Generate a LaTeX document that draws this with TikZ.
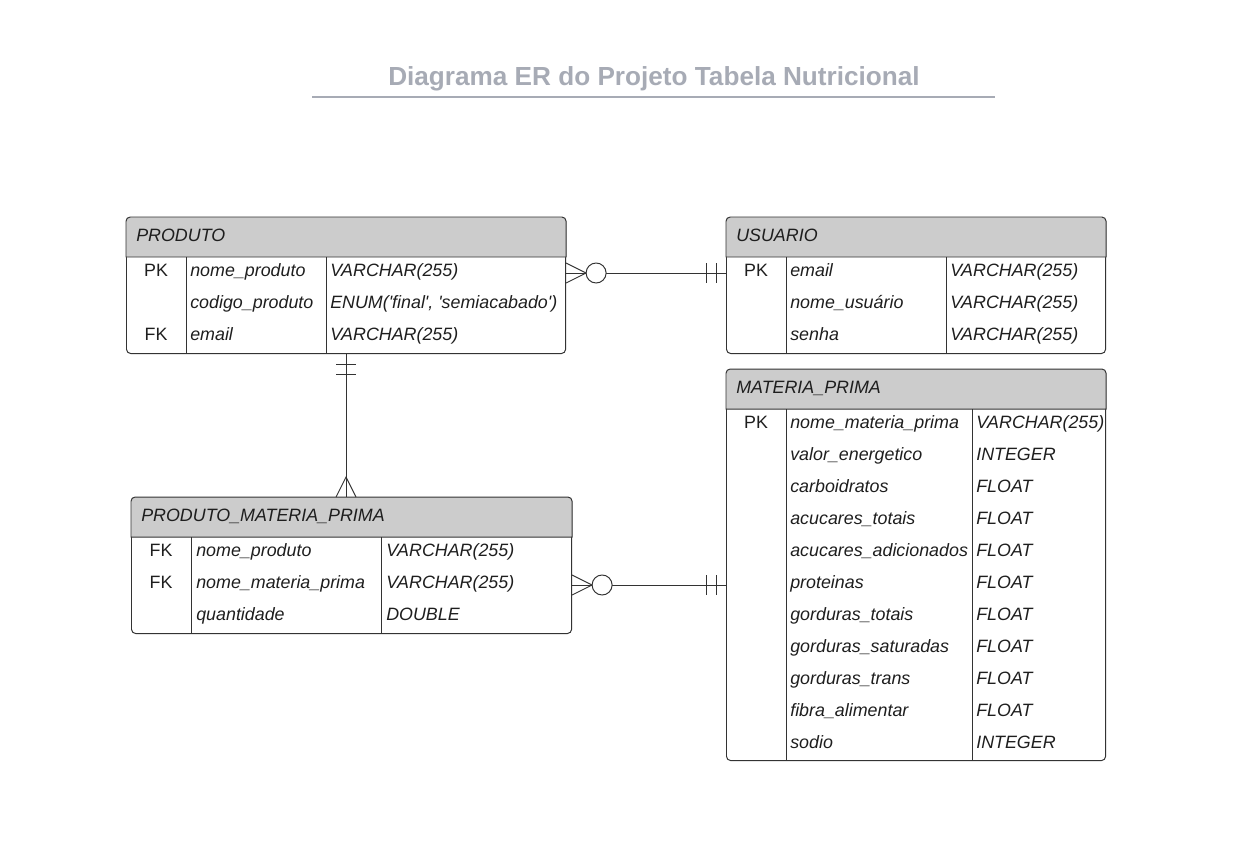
\documentclass[tikz,border=0pt]{standalone}
\usepackage{fontspec}
\setmainfont{Liberation Sans}[Ligatures=TeXOff]
\usetikzlibrary{calc}

\definecolor{linec}{RGB}{51,51,51}
\definecolor{hdrgray}{RGB}{204,204,204}
\definecolor{titlegray}{RGB}{167,171,181}
\definecolor{txt}{RGB}{30,30,30}
\newcommand{\cellfont}{\fontsize{12.7}{15}\selectfont}

\tikzset{
  tbl/.style={draw=linec, line width=0.7pt, rounded corners=3pt, anchor=north west, inner sep=0pt, minimum height=3.4cm},
  hdr/.style={fill=hdrgray, draw=linec, line width=0.7pt},
  cell/.style={inner sep=0pt, text=txt, font=\cellfont, text height=9pt, text depth=4.5pt},
  keyc/.style={cell},
  attr/.style={cell, anchor=west, font=\cellfont\itshape},
  conn/.style={draw=linec, line width=0.7pt},
}

\begin{document}
\begin{tikzpicture}[x=0.025cm, y=-0.025cm]
\useasboundingbox (0,0) rectangle (1251,863);

%Title
\node[font=\fontsize{18.6}{22}\selectfont\bfseries, text=titlegray] (title) at (654,79) {Diagrama ER do Projeto Tabela Nutricional};
\coordinate (ul-l) at (312,97);
\coordinate (ul-r) at (995,97);
\draw[titlegray, line width=1.4pt] (ul-l) -- (ul-r);

%PRODUTO
\node[tbl, minimum width=10.975cm] (produto) at (126,217) {};
\path[hdr] ($(produto.north west)+(0,40)$) [rounded corners=3pt] -- (produto.north west) -- (produto.north east) [sharp corners] -- ($(produto.north east)+(0,40)$) -- cycle;
\node[attr] (prod-h) at (136,238) {PRODUTO};
\draw[conn] (186,257) -- (186,353);
\draw[conn] (326,257) -- (326,353);
\node[keyc] (prod-k1) at (156,273) {PK};
\node[attr] (prod-a1) at (190,273) {nome\_produto};
\node[attr] (prod-t1) at (330,273) {VARCHAR(255)};
\node[attr] (prod-a2) at (190,305) {codigo\_produto};
\node[attr] (prod-t2) at (330,305) {ENUM('final', 'semiacabado')};
\node[keyc] (prod-k3) at (156,337) {FK};
\node[attr] (prod-a3) at (190,337) {email};
\node[attr] (prod-t3) at (330,337) {VARCHAR(255)};

%USUARIO
\node[tbl, minimum width=9.475cm] (usuario) at (726,217) {};
\path[hdr] ($(usuario.north west)+(0,40)$) [rounded corners=3pt] -- (usuario.north west) -- (usuario.north east) [sharp corners] -- ($(usuario.north east)+(0,40)$) -- cycle;
\node[attr] (usu-h) at (736,238) {USUARIO};
\draw[conn] (786,257) -- (786,353);
\draw[conn] (946,257) -- (946,353);
\node[keyc] (usu-k1) at (756,273) {PK};
\node[attr] (usu-a1) at (790,273) {email};
\node[attr] (usu-t1) at (950,273) {VARCHAR(255)};
\node[attr] (usu-a2) at (790,305) {nome\_usuário};
\node[attr] (usu-t2) at (950,305) {VARCHAR(255)};
\node[attr] (usu-a3) at (790,337) {senha};
\node[attr] (usu-t3) at (950,337) {VARCHAR(255)};

%MATERIA_PRIMA
\node[tbl, minimum width=9.475cm, minimum height=9.775cm] (mp) at (726,369) {};
\path[hdr] ($(mp.north west)+(0,40)$) [rounded corners=3pt] -- (mp.north west) -- (mp.north east) [sharp corners] -- ($(mp.north east)+(0,40)$) -- cycle;
\node[attr] (mp-h) at (736,390) {MATERIA\_PRIMA};
\draw[conn] (786,409) -- (786,760);
\draw[conn] (972,409) -- (972,760);
\node[keyc] (mp-k0) at (756,425) {PK};
\foreach \i/\a/\t in {0/nome\_materia\_prima/VARCHAR(255), 1/valor\_energetico/INTEGER,
    2/carboidratos/FLOAT, 3/acucares\_totais/FLOAT, 4/acucares\_adicionados/FLOAT,
    5/proteinas/FLOAT, 6/gorduras\_totais/FLOAT, 7/gorduras\_saturadas/FLOAT,
    8/gorduras\_trans/FLOAT, 9/fibra\_alimentar/FLOAT, 10/sodio/INTEGER}
{
  \node[attr] (mp-a\i) at (790,425+32*\i) {\a};
  \node[attr] (mp-t\i) at (976,425+32*\i) {\t};
}

%PRODUTO_MATERIA_PRIMA
\node[tbl, minimum width=11cm] (pmp) at (131,497) {};
\path[hdr] ($(pmp.north west)+(0,40)$) [rounded corners=3pt] -- (pmp.north west) -- (pmp.north east) [sharp corners] -- ($(pmp.north east)+(0,40)$) -- cycle;
\node[attr] (pmp-h) at (141,518) {PRODUTO\_MATERIA\_PRIMA};
\draw[conn] (191,537) -- (191,633);
\draw[conn] (381,537) -- (381,633);
\node[keyc] (pmp-k1) at (161,553) {FK};
\node[attr] (pmp-a1) at (196,553) {nome\_produto};
\node[attr] (pmp-t1) at (386,553) {VARCHAR(255)};
\node[keyc] (pmp-k2) at (161,585) {FK};
\node[attr] (pmp-a2) at (196,585) {nome\_materia\_prima};
\node[attr] (pmp-t2) at (386,585) {VARCHAR(255)};
\node[attr] (pmp-a3) at (196,617) {quantidade};
\node[attr] (pmp-t3) at (386,617) {DOUBLE};

%PRODUTO -- USUARIO
\coordinate (pu-s) at (produto.east |- prod-a1);
\coordinate (pu-e) at (usuario.west |- prod-a1);
\draw[conn] (pu-s) -- (pu-e);
\draw[conn] ($(pu-s)+(0,-10)$) -- ($(pu-s)+(20,0)$) -- ($(pu-s)+(0,10)$);
\draw[conn, fill=white] ($(pu-s)+(30,0)$) circle (0.25cm);
\draw[conn] ($(pu-e)+(-10,-10)$) -- ++(0,20) ($(pu-e)+(-20,-10)$) -- ++(0,20);

%PRODUTO -- PRODUTO_MATERIA_PRIMA
\coordinate (pp-s) at (produto.south);
\coordinate (pp-e) at (pp-s |- pmp.north);
\draw[conn] (pp-s) -- (pp-e);
\draw[conn] ($(pp-s)+(-10,10)$) -- ++(20,0) ($(pp-s)+(-10,20)$) -- ++(20,0);
\draw[conn] ($(pp-e)+(-10,0)$) -- ($(pp-e)+(0,-20)$) -- ($(pp-e)+(10,0)$);

%PRODUTO_MATERIA_PRIMA -- MATERIA_PRIMA
\coordinate (pm-s) at (pmp.east |- pmp-a2);
\coordinate (pm-e) at (mp.west |- pmp-a2);
\draw[conn] (pm-s) -- (pm-e);
\draw[conn] ($(pm-s)+(0,-10)$) -- ($(pm-s)+(20,0)$) -- ($(pm-s)+(0,10)$);
\draw[conn, fill=white] ($(pm-s)+(30,0)$) circle (0.25cm);
\draw[conn] ($(pm-e)+(-10,-10)$) -- ++(0,20) ($(pm-e)+(-20,-10)$) -- ++(0,20);

\end{tikzpicture}
\end{document}
